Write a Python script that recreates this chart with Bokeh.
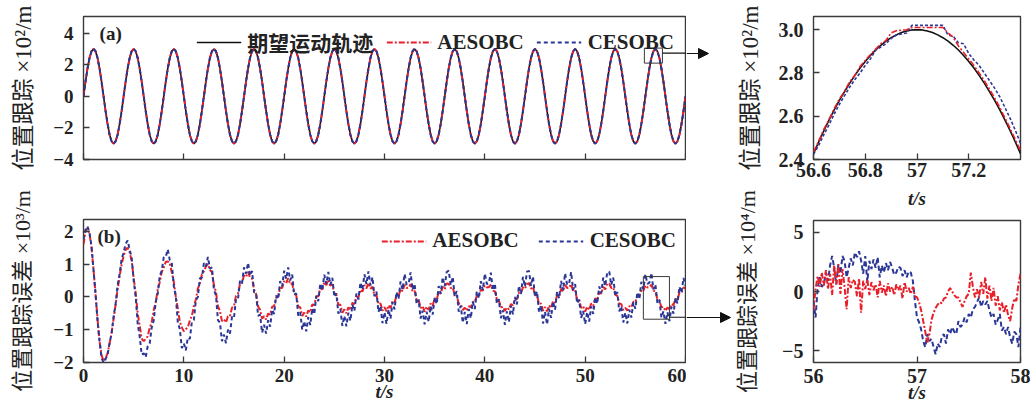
import numpy as np
from bokeh.plotting import figure
from bokeh.models import (ColumnDataSource, Legend, LegendItem, Label, Arrow, NormalHead,
                          FixedTicker, CustomJSTickFormatter, Range1d, LinearAxis)
from bokeh.layouts import row, column
from bokeh.embed import file_html
from bokeh.resources import INLINE

# ---------------- data ----------------
main_step = 0.2          # s, sampling of the full-length curves
main_count = 301         # 0 .. 60 s
desired_pos = [
    0.00, 0.93, 1.76, 2.43, 2.85, 3.00, 2.85, 2.43, 1.76, 0.93, 0.00, -0.93, -1.76, -2.43, -2.85, -3.00, -2.85, -2.43, -1.76, -0.93,
    0.00, 0.93, 1.76, 2.43, 2.85, 3.00, 2.85, 2.43, 1.76, 0.93, 0.00, -0.93, -1.76, -2.43, -2.85, -3.00, -2.85, -2.43, -1.76, -0.93,
    0.00, 0.93, 1.76, 2.43, 2.85, 3.00, 2.85, 2.43, 1.76, 0.93, 0.00, -0.93, -1.76, -2.43, -2.85, -3.00, -2.85, -2.43, -1.76, -0.93,
    0.00, 0.93, 1.76, 2.43, 2.85, 3.00, 2.85, 2.43, 1.76, 0.93, 0.00, -0.93, -1.76, -2.43, -2.85, -3.00, -2.85, -2.43, -1.76, -0.93,
    0.00, 0.93, 1.76, 2.43, 2.85, 3.00, 2.85, 2.43, 1.76, 0.93, 0.00, -0.93, -1.76, -2.43, -2.85, -3.00, -2.85, -2.43, -1.76, -0.93,
    0.00, 0.93, 1.76, 2.43, 2.85, 3.00, 2.85, 2.43, 1.76, 0.93, 0.00, -0.93, -1.76, -2.43, -2.85, -3.00, -2.85, -2.43, -1.76, -0.93,
    0.00, 0.93, 1.76, 2.43, 2.85, 3.00, 2.85, 2.43, 1.76, 0.93, 0.00, -0.93, -1.76, -2.43, -2.85, -3.00, -2.85, -2.43, -1.76, -0.93,
    0.00, 0.93, 1.76, 2.43, 2.85, 3.00, 2.85, 2.43, 1.76, 0.93, 0.00, -0.93, -1.76, -2.43, -2.85, -3.00, -2.85, -2.43, -1.76, -0.93,
    0.00, 0.93, 1.76, 2.43, 2.85, 3.00, 2.85, 2.43, 1.76, 0.93, 0.00, -0.93, -1.76, -2.43, -2.85, -3.00, -2.85, -2.43, -1.76, -0.93,
    0.00, 0.93, 1.76, 2.43, 2.85, 3.00, 2.85, 2.43, 1.76, 0.93, 0.00, -0.93, -1.76, -2.43, -2.85, -3.00, -2.85, -2.43, -1.76, -0.93,
    0.00, 0.93, 1.76, 2.43, 2.85, 3.00, 2.85, 2.43, 1.76, 0.93, 0.00, -0.93, -1.76, -2.43, -2.85, -3.00, -2.85, -2.43, -1.76, -0.93,
    0.00, 0.93, 1.76, 2.43, 2.85, 3.00, 2.85, 2.43, 1.76, 0.93, 0.00, -0.93, -1.76, -2.43, -2.85, -3.00, -2.85, -2.43, -1.76, -0.93,
    0.00, 0.93, 1.76, 2.43, 2.85, 3.00, 2.85, 2.43, 1.76, 0.93, 0.00, -0.93, -1.76, -2.43, -2.85, -3.00, -2.85, -2.43, -1.76, -0.93,
    0.00, 0.93, 1.76, 2.43, 2.85, 3.00, 2.85, 2.43, 1.76, 0.93, 0.00, -0.93, -1.76, -2.43, -2.85, -3.00, -2.85, -2.43, -1.76, -0.93,
    0.00, 0.93, 1.76, 2.43, 2.85, 3.00, 2.85, 2.43, 1.76, 0.93, 0.00, -0.93, -1.76, -2.43, -2.85, -3.00, -2.85, -2.43, -1.76, -0.93,
    0.00,
]
# at full scale both controllers lie on the desired trajectory
aesobc_pos = desired_pos
cesobc_pos = desired_pos

aesobc_err = [
    1.60, 2.00,
    2.10, 1.93, 1.50, 0.82, 0.09, -0.68, -1.35, -1.78, -1.95, -1.87, -1.72, -1.42, -1.10, -0.66, -0.24, 0.23, 0.62, 0.99, 1.25, 1.44,
    1.50, 1.36, 1.10, 0.58, 0.12, -0.50, -0.88, -1.27, -1.35, -1.28, -1.20, -0.95, -0.76, -0.40, -0.16, 0.22, 0.45, 0.76, 0.90, 1.07,
    1.08, 1.03, 0.74, 0.46, 0.00, -0.35, -0.76, -0.93, -1.05, -0.98, -0.93, -0.72, -0.58, -0.28, -0.08, 0.25, 0.42, 0.68, 0.78, 0.93,
    1.00, 0.82, 0.76, 0.36, 0.16, -0.28, -0.43, -0.74, -0.69, -0.78, -0.59, -0.59, -0.33, -0.27, 0.03, 0.10, 0.40, 0.42, 0.66, 0.61,
    0.76, 0.59, 0.56, 0.22, 0.09, -0.29, -0.39, -0.66, -0.59, -0.69, -0.51, -0.54, -0.30, -0.28, -0.02, 0.01, 0.27, 0.27, 0.48, 0.42,
    0.57, 0.39, 0.41, 0.10, 0.05, -0.29, -0.32, -0.58, -0.48, -0.60, -0.41, -0.47, -0.23, -0.25, 0.02, 0.01, 0.27, 0.23, 0.45, 0.36,
    0.52, 0.34, 0.39, 0.10, 0.07, -0.24, -0.24, -0.48, -0.38, -0.50, -0.32, -0.40, -0.18, -0.22, 0.02, -0.02, 0.22, 0.16, 0.36, 0.26,
    0.42, 0.25, 0.31, 0.05, 0.05, -0.22, -0.20, -0.42, -0.31, -0.44, -0.26, -0.34, -0.13, -0.18, 0.05, 0.01, 0.24, 0.17, 0.37, 0.27,
    0.28, 0.39, 0.17, 0.19, -0.09, -0.08, -0.34, -0.28, -0.45, -0.30, -0.40, -0.20, -0.27, -0.04, -0.09, 0.15, 0.10, 0.31, 0.23, 0.41,
    0.40, 0.27, 0.29, 0.07, 0.03, -0.20, -0.22, -0.40, -0.33, -0.42, -0.28, -0.32, -0.15, -0.16, 0.03, 0.03, 0.22, 0.19, 0.35, 0.29,
    0.30, 0.37, 0.19, 0.17, -0.07, -0.10, -0.32, -0.30, -0.43, -0.32, -0.38, -0.22, -0.25, -0.06, -0.07, 0.13, 0.12, 0.29, 0.25, 0.39,
    0.42, 0.25, 0.31, 0.05, 0.05, -0.22, -0.20, -0.42, -0.31, -0.44, -0.26, -0.34, -0.13, -0.18, 0.05, 0.01, 0.24, 0.17, 0.37, 0.27,
    0.28, 0.39, 0.17, 0.19, -0.09, -0.08, -0.34, -0.28, -0.45, -0.30, -0.40, -0.20, -0.27, -0.04, -0.09, 0.15, 0.10, 0.31, 0.23, 0.41,
    0.40, 0.27, 0.29, 0.07, 0.03, -0.20, -0.22, -0.40, -0.33, -0.42, -0.28, -0.32, -0.15, -0.16, 0.03, 0.03, 0.22, 0.19, 0.35, 0.29,
    0.30, 0.37, 0.19, 0.17, -0.07, -0.10, -0.32, -0.30, -0.43, -0.32, -0.38, -0.22, -0.25, -0.06, -0.07, 0.13, 0.12, 0.29, 0.25,
]
cesobc_err = [
    1.75, 2.05,
    2.15, 1.95, 1.55, 0.82, 0.10, -0.74, -1.35, -1.86, -2.00, -1.90, -1.76, -1.40, -1.12, -0.60, -0.22, 0.36, 0.70, 1.16, 1.35, 1.62,
    1.72, 1.44, 1.20, 0.50, 0.00, -0.82, -1.20, -1.76, -1.72, -1.84, -1.50, -1.42, -0.93, -0.72, -0.15, 0.10, 0.64, 0.80, 1.21, 1.22,
    1.45, 1.12, 1.04, 0.33, 0.02, -0.78, -0.98, -1.56, -1.42, -1.63, -1.24, -1.28, -0.76, -0.70, -0.10, 0.00, 0.57, 0.58, 1.03, 0.93,
    1.22, 0.86, 0.90, 0.21, 0.05, -0.71, -0.79, -1.35, -1.15, -1.41, -1.00, -1.12, -0.60, -0.64, -0.05, -0.06, 0.50, 0.42, 0.90, 0.71,
    1.04, 0.65, 0.79, 0.14, 0.12, -0.58, -0.54, -1.09, -0.85, -1.12, -0.71, -0.91, -0.39, -0.52, 0.04, -0.07, 0.48, 0.32, 0.80, 0.55,
    0.90, 0.50, 0.68, 0.06, 0.11, -0.57, -0.47, -1.00, -0.74, -1.05, -0.62, -0.86, -0.35, -0.53, 0.03, -0.13, 0.41, 0.20, 0.68, 0.39,
    0.76, 0.37, 0.58, 0.00, 0.11, -0.51, -0.37, -0.88, -0.58, -0.90, -0.48, -0.73, -0.23, -0.43, 0.10, -0.08, 0.44, 0.22, 0.69, 0.39,
    0.78, 0.35, 0.60, 0.02, 0.16, -0.46, -0.28, -0.80, -0.47, -0.82, -0.38, -0.66, -0.16, -0.38, 0.15, -0.06, 0.47, 0.22, 0.70, 0.38,
    0.40, 0.75, 0.22, 0.40, -0.22, -0.08, -0.66, -0.42, -0.84, -0.45, -0.76, -0.28, -0.54, -0.01, -0.22, 0.33, 0.10, 0.60, 0.32, 0.76,
    0.80, 0.36, 0.61, 0.01, 0.18, -0.45, -0.27, -0.79, -0.46, -0.83, -0.37, -0.65, -0.15, -0.37, 0.17, -0.05, 0.48, 0.21, 0.71, 0.39,
    0.42, 0.74, 0.20, 0.41, -0.21, -0.07, -0.65, -0.41, -0.85, -0.44, -0.77, -0.27, -0.53, 0.00, -0.23, 0.34, 0.09, 0.61, 0.31, 0.77,
    0.79, 0.34, 0.62, 0.00, 0.17, -0.47, -0.26, -0.81, -0.45, -0.84, -0.36, -0.64, -0.14, -0.39, 0.16, -0.04, 0.49, 0.20, 0.72, 0.37,
    0.41, 0.76, 0.21, 0.39, -0.20, -0.09, -0.64, -0.43, -0.83, -0.46, -0.75, -0.29, -0.52, -0.02, -0.21, 0.32, 0.11, 0.59, 0.33, 0.75,
    0.77, 0.36, 0.59, 0.03, 0.15, -0.44, -0.29, -0.78, -0.48, -0.81, -0.39, -0.63, -0.17, -0.36, 0.14, -0.07, 0.46, 0.23, 0.69, 0.40,
    0.43, 0.73, 0.23, 0.38, -0.19, -0.10, -0.63, -0.44, -0.82, -0.47, -0.74, -0.30, -0.51, -0.03, -0.20, 0.31, 0.12, 0.58, 0.34,
]

# zoom of the position curves, 56.6 .. 57.4 s every 0.02 s
zpos_start, zpos_step = 56.6, 0.02
zoom_desired = [2.427, 2.481, 2.533, 2.582, 2.629, 2.673, 2.714, 2.753, 2.789, 2.823, 2.853, 2.881, 2.906, 2.928,
                2.947, 2.963, 2.976, 2.987, 2.994, 2.999, 3.000, 2.999, 2.994, 2.987, 2.976, 2.963, 2.947, 2.928,
                2.906, 2.881, 2.853, 2.823, 2.789, 2.753, 2.714, 2.673, 2.629, 2.582, 2.533, 2.481, 2.427]
zoom_aesobc = [2.435, 2.485, 2.540, 2.585, 2.635, 2.680, 2.715, 2.760, 2.790, 2.830, 2.858, 2.885, 2.910, 2.935,
               2.950, 2.985, 2.995, 2.998, 3.000, 3.010, 3.010, 3.010, 3.010, 3.010, 3.010, 3.010, 2.985, 2.965,
               2.925, 2.895, 2.865, 2.835, 2.800, 2.765, 2.725, 2.685, 2.640, 2.592, 2.543, 2.493, 2.440]
zoom_cesobc = [2.425, 2.465, 2.515, 2.560, 2.610, 2.655, 2.695, 2.735, 2.770, 2.800, 2.835, 2.865, 2.905, 2.920,
               2.935, 2.960, 2.975, 2.980, 2.985, 3.020, 3.020, 3.020, 3.020, 3.020, 3.020, 3.020, 2.975, 2.970,
               2.940, 2.935, 2.890, 2.860, 2.835, 2.800, 2.765, 2.730, 2.690, 2.640, 2.590, 2.535, 2.475]

# zoom of the errors, 56 .. 58 s every 0.02 s (x 1e-4)
zerr_start, zerr_step = 56.0, 0.02
zoom_err_aesobc = [
    -1.6, 0.2, 1.3, 0.4, 1.6, 0.5, 1.8, 0.2, 1.5, -0.3, 2.2, 0.6, 2.3, -0.2, 1.9, 0.4, -1.5, 1.2, 0.3, 1.0,
    0.8, -0.4, 1.1, -1.8, 0.9, 0.2, 1.0, -0.3, 0.8, 0.1, 0.6, -0.5, 0.9, -0.1, 0.5, -0.4, 0.7, 0.0, 0.4, -0.3,
    0.6, 0.1, 0.5, -0.6, 0.8, 0.0, 0.3, -0.2, 0.4, -0.4, -0.5, -0.9, -1.6, -2.5, -3.4, -4.3, -3.6, -2.4, -1.8, -1.4,
    -1.1, -0.9, -1.0, -0.6, -0.5, 0.0, 0.3, 0.0, -0.3, -0.5, -0.5, -0.9, -1.3, -0.8, -0.4, -0.2, 1.6, 0.4, -0.5, 0.2,
    -0.5, 0.8, -0.2, 1.2, -0.6, 0.5, -0.8, 0.3, -1.2, -0.4, -1.6, -0.9, -1.8, -1.1, -2.0, -2.5, -1.4, -0.6, -0.8, 0.6,
    1.5,
]
zoom_err_cesobc = [
    -0.8, -2.2, 0.3, 1.2, 0.4, 0.6, 1.6, 0.9, 2.2, 3.0, 2.0, 0.6, 2.3, 1.5, 3.0, 2.6, 1.2, 2.0, 2.8, 2.2,
    3.3, 2.9, 3.4, 2.6, 1.5, 3.0, 0.8, 2.6, 1.9, 2.7, 2.0, 2.9, 1.2, 2.2, 1.6, 2.4, 1.8, 2.5, 2.0, 1.4,
    1.6, 2.1, 2.0, 1.3, 1.8, 1.2, 1.7, 1.6, 0.9, -0.8, -2.2, -2.6, -3.2, -4.2, -4.7, -3.6, -4.2, -4.0, -4.7, -5.3,
    -4.4, -4.7, -3.8, -3.6, -4.4, -3.2, -3.6, -3.0, -3.4, -3.6, -2.5, -3.0, -2.8, -2.2, -2.6, -1.9, -2.2, -1.5, -1.3, -0.9,
    -0.5, -1.3, -0.8, -1.1, -0.8, -1.6, -2.2, -1.9, -2.8, -2.4, -1.9, -3.3, -3.0, -3.6, -3.0, -3.9, -4.4, -3.4, -3.6, -4.7,
    -3.0,
]

assert len(desired_pos) == main_count and len(aesobc_err) == main_count and len(cesobc_err) == main_count
assert len(zoom_desired) == 41 and len(zoom_aesobc) == 41 and len(zoom_cesobc) == 41
assert len(zoom_err_aesobc) == 101 and len(zoom_err_cesobc) == 101

legend_pos = ["期望运动轨迹", "AESOBC", "CESOBC"]
legend_err = ["AESOBC", "CESOBC"]
label_pos = "位置跟踪 ×10²/m"
label_err_main = "位置跟踪误差 ×10³/m"
label_err_zoom = "位置跟踪误差 ×10⁴/m"
label_t = "t/s"

# marked regions (data coordinates of the main panels)
box_a = dict(left=55.9, right=57.7, bottom=2.1, top=3.05)
box_b = dict(left=55.8, right=58.4, bottom=-0.68, top=0.62)
lead_a = dict(y=2.73)      # height of the leader line leaving box (a)
lead_b = dict(y=-0.62)     # height of the leader line leaving box (b)

t_main = np.round(np.arange(main_count) * main_step, 2)
t_zpos = np.round(zpos_start + np.arange(len(zoom_desired)) * zpos_step, 3)
t_zerr = np.round(zerr_start + np.arange(len(zoom_err_aesobc)) * zerr_step, 3)

# ---------------- style ----------------
FONT = "'Liberation Serif', 'Noto Sans CJK SC'"
RED = "#e8202a"
BLUE = "#2b3796"
BLACK = "#111111"
FRAME = "#3a3a3a"
TXT = "#222222"

fmt_code = """
const isint = Math.abs(tick - Math.round(tick)) < 1e-9;
const d = isint ? dec : 1;
const s = Math.abs(tick).toFixed(d);
return (tick < -1e-12 ? '\u2212' : '') + s;
"""


def make_fig(w, h, xr, yr, mb, xticks, yticks, xdec, ydec, tick_size, label_size):
    p = figure(width=w, height=h, x_range=Range1d(*xr), y_range=Range1d(*yr),
               output_backend="svg", toolbar_location=None, tools="",
               min_border_left=mb[0], min_border_right=mb[1],
               min_border_top=mb[2], min_border_bottom=mb[3])
    p.xgrid.visible = False
    p.ygrid.visible = False
    p.outline_line_color = FRAME
    p.outline_line_width = 1.4
    p.outline_line_alpha = 1.0
    for ax, ticks, dec in ((p.xaxis[0], xticks, xdec), (p.yaxis[0], yticks, ydec)):
        ax.ticker = FixedTicker(ticks=ticks)
        ax.formatter = CustomJSTickFormatter(code=fmt_code, args=dict(dec=dec))
        ax.axis_line_color = None
        ax.major_tick_in = 6
        ax.major_tick_out = 0
        ax.major_tick_line_color = FRAME
        ax.major_tick_line_width = 1.3
        ax.minor_tick_line_color = None
        ax.major_label_text_font = FONT
        ax.major_label_text_font_style = "bold"
        ax.major_label_text_font_size = tick_size
        ax.major_label_text_color = TXT
        ax.axis_label_text_font = FONT
        ax.axis_label_text_font_style = "normal"
        ax.axis_label_text_font_size = label_size
        ax.axis_label_text_color = TXT
    return p


def make_legend(items, margin, spacing):
    return Legend(items=items, orientation="horizontal", location="top_right",
                  glyph_width=45, glyph_height=18, label_standoff=6, spacing=spacing,
                  padding=0, margin=margin, border_line_color=None,
                  background_fill_alpha=0.0, label_text_font=FONT,
                  label_text_font_size="21px", label_text_font_style="bold",
                  label_text_color=TXT, label_height=20)


def make_gap(w, h, y_tip, x_tip):
    """Narrow blank panel between the columns carrying the end of a leader arrow."""
    g = figure(width=w, height=h, x_range=Range1d(0, w), y_range=Range1d(h, 0),
               output_backend="svg", toolbar_location=None, tools="",
               x_axis_location=None, y_axis_location=None,
               min_border_left=0, min_border_right=0, min_border_top=0, min_border_bottom=0)
    g.xgrid.visible = False
    g.ygrid.visible = False
    g.outline_line_color = None
    g.add_layout(Arrow(end=NormalHead(size=10, fill_color=BLACK, line_color=BLACK, line_width=1),
                       x_start=0, y_start=y_tip, x_end=x_tip, y_end=y_tip,
                       line_color=BLACK, line_width=1.2))
    return g


TOP_H, BOT_H = 184, 225
LEFT_W, GAP_W, RIGHT_W = 686, 46, 300

# ---- (a) position tracking ----
pa = make_fig(LEFT_W, TOP_H, (0, 60), (-4, 5.05), (83, 1, 16, TOP_H - 159),
              [0, 10, 20, 30, 40, 50, 60], [-4, -2, 0, 2, 4], 0, 0, "19px", "23px")
pa.xaxis.formatter = CustomJSTickFormatter(code="return '';")
pa.xaxis.major_label_standoff = 0
pa.yaxis.axis_label = label_pos
pa.yaxis.major_label_standoff = 10
pa.yaxis.axis_label_standoff = 14
src_a = ColumnDataSource(dict(t=t_main, d=desired_pos, a=aesobc_pos, c=cesobc_pos))
ra0 = pa.line("t", "d", source=src_a, line_color=BLACK, line_width=1.6)
ra1 = pa.line("t", "a", source=src_a, line_color=RED, line_width=2.0, line_dash="6 2 2 2")
ra2 = pa.line("t", "c", source=src_a, line_color=BLUE, line_width=2.0, line_dash="4 3")
pa.quad(left=[box_a["left"]], right=[box_a["right"]], bottom=[box_a["bottom"]], top=[box_a["top"]],
        fill_color=None, line_color=FRAME, line_width=1.0)
pa.segment(x0=[box_a["right"]], x1=[61.0], y0=[lead_a["y"]], y1=[lead_a["y"]],
           line_color=BLACK, line_width=1.2)
pa.add_layout(Label(x=1.6, y=4.0, text="(a)", text_font=FONT, text_font_size="19px",
                    text_font_style="bold", text_baseline="middle", text_color=TXT))
pa.add_layout(make_legend([LegendItem(label=legend_pos[0], renderers=[ra0]),
                           LegendItem(label=legend_pos[1], renderers=[ra1]),
                           LegendItem(label=legend_pos[2], renderers=[ra2])], 11, 13))

# ---- (b) position tracking error ----
pb = make_fig(LEFT_W, BOT_H, (0, 60), (-2, 2.36), (83, 1, 219 - TOP_H, 47),
              [0, 10, 20, 30, 40, 50, 60], [-2, -1, 0, 1, 2], 0, 0, "19px", "22px")
pb.yaxis.axis_label = label_err_main
pb.yaxis.major_label_standoff = 10
pb.yaxis.axis_label_standoff = 15
pb.xaxis.axis_label = label_t
pb.xaxis.axis_label_text_font_style = "bold italic"
pb.xaxis.axis_label_text_font_size = "19px"
pb.xaxis.major_label_standoff = 6
pb.xaxis.axis_label_standoff = -4
src_b = ColumnDataSource(dict(t=t_main, a=aesobc_err, c=cesobc_err))
rb1 = pb.line("t", "a", source=src_b, line_color=RED, line_width=2.0, line_dash="6 2 2 2")
rb2 = pb.line("t", "c", source=src_b, line_color=BLUE, line_width=2.0, line_dash="4 3")
pb.quad(left=[box_b["left"]], right=[box_b["right"]], bottom=[box_b["bottom"]], top=[box_b["top"]],
        fill_color=None, line_color=FRAME, line_width=1.0)
pb.segment(x0=[box_b["right"]], x1=[61.0], y0=[lead_b["y"]], y1=[lead_b["y"]],
           line_color=BLACK, line_width=1.2)
pb.add_layout(Label(x=1.4, y=1.85, text="(b)", text_font=FONT, text_font_size="19px",
                    text_font_style="bold", text_baseline="middle", text_color=TXT))
pb.add_layout(make_legend([LegendItem(label=legend_err[0], renderers=[rb1]),
                           LegendItem(label=legend_err[1], renderers=[rb2])], 9, 20))

# ---- arrows between the columns ----
ga = make_gap(GAP_W, TOP_H, 53, 22)
gb = make_gap(GAP_W, BOT_H, 317 - TOP_H, 44)

# ---- zoom of (a) ----
pc = make_fig(RIGHT_W, TOP_H, (56.6, 57.4), (2.4, 3.061), (75, 12, 16, TOP_H - 159),
              [56.6, 56.8, 57.0, 57.2], [2.4, 2.6, 2.8, 3.0], 0, 1, "20px", "23px")
pc.yaxis.axis_label = label_pos
pc.yaxis.major_label_standoff = 10
pc.yaxis.axis_label_standoff = 13
pc.xaxis.major_label_standoff = 3
src_c = ColumnDataSource(dict(t=t_zpos, d=zoom_desired, a=zoom_aesobc, c=zoom_cesobc))
pc.line("t", "d", source=src_c, line_color=BLACK, line_width=1.6)
pc.line("t", "c", source=src_c, line_color=BLUE, line_width=1.6, line_dash="3 2")
pc.line("t", "a", source=src_c, line_color=RED, line_width=1.6, line_dash="6 2 2 2")

# ---- zoom of (b) ----
pd_ = make_fig(RIGHT_W, BOT_H, (56, 58), (-6, 6), (75, 12, 219 - TOP_H, 47),
               [56, 57, 58], [-5, 0, 5], 0, 0, "20px", "22px")
pd_.yaxis.axis_label = label_err_zoom
pd_.yaxis.major_label_standoff = 10
pd_.yaxis.axis_label_standoff = 19
pd_.xaxis.axis_label = label_t
pd_.xaxis.axis_label_text_font_style = "bold italic"
pd_.xaxis.axis_label_text_font_size = "19px"
pd_.xaxis.major_label_standoff = 6
pd_.xaxis.axis_label_standoff = -4
# time label of the zoom panel above: carried by a bare axis in this panel's top margin
top_t = LinearAxis(axis_label=label_t, ticker=FixedTicker(ticks=[]),
                   formatter=CustomJSTickFormatter(code="return '';"))
top_t.axis_line_color = None
top_t.major_tick_line_color = None
top_t.minor_tick_line_color = None
top_t.major_label_text_font_size = "1px"
top_t.major_label_standoff = 0
top_t.axis_label_standoff = 12
top_t.axis_label_text_font = FONT
top_t.axis_label_text_font_size = "19px"
top_t.axis_label_text_font_style = "bold italic"
top_t.axis_label_text_color = TXT
pd_.add_layout(top_t, "above")
src_d = ColumnDataSource(dict(t=t_zerr, a=zoom_err_aesobc, c=zoom_err_cesobc))
pd_.line("t", "c", source=src_d, line_color=BLUE, line_width=2.0, line_dash="5 3")
pd_.line("t", "a", source=src_d, line_color=RED, line_width=2.0, line_dash="6 2 2 2")

layout = row(column(pa, pb), column(ga, gb), column(pc, pd_))
open("out.html", "w").write(file_html(layout, INLINE))
